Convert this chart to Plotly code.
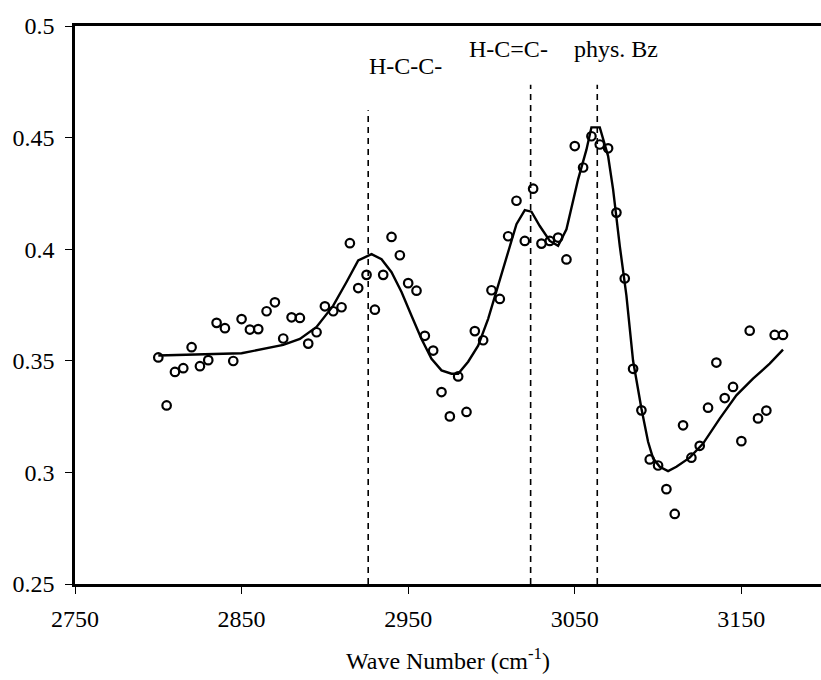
import plotly.graph_objects as go

# Measured spectrum (open circles)
wave_number = [2800, 2805, 2810, 2815, 2820, 2825, 2830, 2835, 2840, 2845,
               2850, 2855, 2860, 2865, 2870, 2875, 2880, 2885, 2890, 2895,
               2900, 2905, 2910, 2915, 2920, 2925, 2930, 2935, 2940, 2945,
               2950, 2955, 2960, 2965, 2970, 2975, 2980, 2985, 2990, 2995,
               3000, 3005, 3010, 3015, 3020, 3025, 3030, 3035, 3040, 3045,
               3050, 3055, 3060, 3065, 3070, 3075, 3080, 3085, 3090, 3095,
               3100, 3105, 3110, 3115, 3120, 3125, 3130, 3135, 3140, 3145,
               3150, 3155, 3160, 3165, 3170, 3175]
signal = [0.3515, 0.330, 0.345, 0.3467, 0.3561, 0.3476, 0.3503, 0.367, 0.3646, 0.3499,
          0.3687, 0.364, 0.3642, 0.3722, 0.3762, 0.360, 0.3695, 0.3692, 0.3577, 0.3628,
          0.3744, 0.3722, 0.374, 0.4027, 0.3826, 0.3885, 0.3729, 0.3885, 0.4055, 0.3973,
          0.3848, 0.3814, 0.3612, 0.3546, 0.336, 0.3251, 0.343, 0.3271, 0.3633, 0.3592,
          0.3816, 0.3777, 0.4058, 0.4217, 0.4037, 0.4271, 0.4025, 0.4037, 0.4052, 0.3954,
          0.4462, 0.4366, 0.4506, 0.4469, 0.4452, 0.4164, 0.3869, 0.3464, 0.3278, 0.3058,
          0.3031, 0.2925, 0.2814, 0.3211, 0.3066, 0.3119, 0.329, 0.3492, 0.3333, 0.3383,
          0.314, 0.3635, 0.3242, 0.3277, 0.3616, 0.3616]

# Fitted curve (solid line)
fit_x = [2800, 2850, 2875, 2885, 2895, 2905, 2913, 2920, 2928, 2934,
         2940, 2946, 2952, 2958, 2964, 2970, 2976, 2980, 2986, 2992,
         2998, 3004, 3010, 3015, 3020, 3024, 3029, 3035, 3040, 3045,
         3052, 3057, 3060, 3065, 3070, 3073, 3077, 3081, 3085, 3090,
         3094, 3097, 3101, 3106, 3111, 3119, 3127, 3137, 3147, 3157,
         3167, 3175]
fit_y = [0.3524, 0.3534, 0.3571, 0.3598, 0.3652, 0.3747, 0.3853, 0.3950, 0.3978, 0.3955,
         0.3897, 0.3808, 0.3702, 0.3598, 0.3509, 0.3457, 0.3442, 0.3442, 0.3496, 0.3568,
         0.3688, 0.3836, 0.3992, 0.4112, 0.4175, 0.4168, 0.4104, 0.4037, 0.4015, 0.4089,
         0.4313, 0.4446, 0.4546, 0.4546, 0.4417, 0.4268, 0.4015, 0.3792, 0.3500, 0.3286,
         0.3137, 0.3063, 0.3025, 0.3006, 0.3025, 0.3066, 0.3129, 0.3241, 0.3345, 0.3420,
         0.3487, 0.3550]

# Reference band markers
band_names = ["H-C-C-", "H-C=C-", "phys. Bz"]
band_pos = [2926, 3023.5, 3063.5]
band_top = [0.4622, 0.4737, 0.4737]
label_x = [2948.5, 3010.5, 3075]
label_y = [0.482, 0.4895, 0.4895]

y_ticks = [0.25, 0.3, 0.35, 0.4, 0.45, 0.5]
y_tick_text = ["0.25", "0.3", "0.35", "0.4", "0.45", "0.5"]
x_ticks = [2750, 2850, 2950, 3050, 3150]

FONT = "Liberation Serif"
FS = 24

fig = go.Figure()

for xp, yt in zip(band_pos, band_top):
    fig.add_trace(go.Scatter(
        x=[xp, xp], y=[0.25, yt], mode="lines",
        line=dict(color="black", width=1.6, dash="6px,5px"),
        hoverinfo="skip", showlegend=False))

fig.add_trace(go.Scatter(
    x=fit_x, y=fit_y, mode="lines",
    line=dict(color="black", width=2.4),
    showlegend=False))

fig.add_trace(go.Scatter(
    x=wave_number, y=signal, mode="markers",
    marker=dict(symbol="circle-open", size=8.5, color="black",
                line=dict(color="black", width=2.2)),
    showlegend=False))

for name, lx, ly in zip(band_names, label_x, label_y):
    fig.add_annotation(x=lx, y=ly, xref="x", yref="y", text=name,
                       showarrow=False,
                       font=dict(family=FONT, size=FS, color="black"))

fig.update_layout(
    width=821, height=680,
    margin=dict(l=75, r=0, t=26, b=96),
    paper_bgcolor="white", plot_bgcolor="white",
    font=dict(family=FONT, size=FS, color="black"),
    showlegend=False,
)

fig.update_xaxes(
    range=[2750, 3197.8], tickvals=x_ticks,
    showgrid=False, zeroline=False,
    showline=True, linecolor="black", linewidth=2.5, mirror=True,
    ticks="outside", ticklen=7, tickcolor="black", tickwidth=1,
    ticklabelstandoff=4,
    tickfont=dict(family=FONT, size=FS, color="black"),
    title=dict(text="Wave Number (cm<sup>-1</sup>)",
               font=dict(family=FONT, size=FS, color="black"),
               standoff=22),
)
fig.update_yaxes(
    range=[0.25, 0.5], tickvals=y_ticks, ticktext=y_tick_text,
    showgrid=False, zeroline=False,
    showline=True, linecolor="black", linewidth=2.5, mirror=False,
    ticks="outside", ticklen=7, tickcolor="black", tickwidth=1,
    ticklabelstandoff=6,
    tickfont=dict(family=FONT, size=FS, color="black"),
)

fig.write_html("out.html")
